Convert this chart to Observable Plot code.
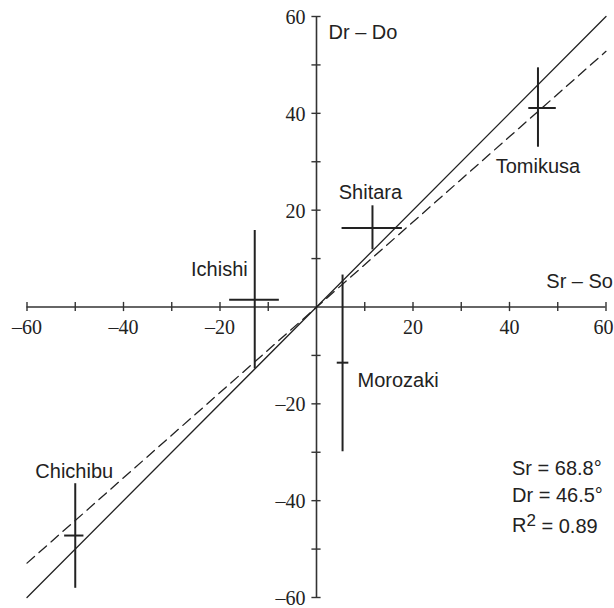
<!DOCTYPE html>
<html>
<head>
<meta charset="utf-8">
<script src="https://cdn.jsdelivr.net/npm/d3@7"></script>
<script src="https://cdn.jsdelivr.net/npm/@observablehq/plot@0.6"></script>
<style>
  html, body { margin: 0; padding: 0; background: #fff; }
  #chart { width: 614px; height: 608px; }
</style>
</head>
<body>
<div id="chart"></div>
<script>
// ---- data ----
const sites = ["Chichibu", "Ichishi", "Shitara", "Tomikusa", "Morozaki"];
const srSo   = [-50.0, -12.8, 11.6, 45.9, 5.4];   // x centre
const drDo   = [-47.2,   1.5, 16.3, 41.1, -11.5]; // y centre
const srSoLo = [-52.2, -18.0,  5.3, 44.0,  4.3];
const srSoHi = [-48.2,  -7.7, 17.8, 49.7,  6.7];
const drDoLo = [-58.1, -12.8, 11.8, 33.0, -29.9];
const drDoHi = [-36.5,  15.8, 20.9, 49.4,  6.6];

const fitX       = [-60, 60];
const fitSolidY  = [-60, 60];
const fitDashedY = [-52.9, 52.8];

const tickValues  = [-60, -50, -40, -30, -20, -10, 10, 20, 30, 40, 50, 60];
const labelValues = [-60, -40, -20, 20, 40, 60];
const domain = [-60, 60];
const xTitle = "Sr \u2013 So";
const yTitle = "Dr \u2013 Do";
const stats = ["Sr = 68.8\u00b0", "Dr = 46.5\u00b0", "R2 = 0.89"];

// ---- build ----
const points = sites.map((s, i) => ({
  site: s, x: srSo[i], y: drDo[i],
  xlo: srSoLo[i], xhi: srSoHi[i], ylo: drDoLo[i], yhi: drDoHi[i]
}));
const fit = fitX.map((x, i) => ({x, solid: fitSolidY[i], dashed: fitDashedY[i]}));

const ink = "#333";
const sans = "Liberation Sans, Arial, sans-serif";
const serif = "Liberation Serif, Times New Roman, serif";
const tickHalf = 0.95;
const fmt = d => d < 0 ? "\u2013" + Math.abs(d) : String(d);

// label placement (style)
const labelStyle = {
  Chichibu: {anchorY: "yhi", textAnchor: "middle", dx: -1, dy: -12},
  Ichishi:  {anchorY: "y",   textAnchor: "end",    dx: -7, dy: -30},
  Shitara:  {anchorY: "yhi", textAnchor: "middle", dx: -2, dy: -13},
  Tomikusa: {anchorY: "ylo", textAnchor: "middle", dx: 0,  dy: 19},
  Morozaki: {anchorY: "y",   textAnchor: "start",  dx: 15, dy: 18}
};

const labelMarks = points.map(p => {
  const st = labelStyle[p.site];
  return Plot.text([p], {
    x: "x", y: st.anchorY, text: "site",
    textAnchor: st.textAnchor, dx: st.dx, dy: st.dy,
    fontFamily: sans, fontSize: 20, fill: "#222"
  });
});

const statMarks = stats.map((t, i) => Plot.text([t], {
  text: d => d, frameAnchor: "bottom-right", textAnchor: "start",
  dx: -94, dy: [-123, -96, -66][i], fontFamily: sans, fontSize: 20, fill: "#222"
}));

const xLabelsInner = labelValues.filter(d => d !== domain[1]);
const xLabelsEdge = labelValues.filter(d => d === domain[1]);

const chart = Plot.plot({
  width: 614,
  height: 608,
  marginLeft: 26.5,
  marginRight: 8.5,
  marginTop: 16,
  marginBottom: 11,
  x: {domain, axis: null},
  y: {domain, axis: null},
  style: {background: "#fff", overflow: "visible"},
  marks: [
    // axes
    Plot.ruleY([0], {stroke: ink, strokeWidth: 1.6}),
    Plot.ruleX([0], {stroke: ink, strokeWidth: 1.6}),
    Plot.ruleX(tickValues, {x: d => d, y1: -tickHalf, y2: tickHalf, stroke: ink, strokeWidth: 1.4}),
    Plot.ruleY(tickValues, {y: d => d, x1: -tickHalf, x2: tickHalf, stroke: ink, strokeWidth: 1.4}),
    Plot.text(xLabelsInner, {x: d => d, y: 0, text: fmt, dy: 21, fontFamily: serif, fontSize: 20, fill: "#222"}),
    Plot.text(xLabelsEdge, {x: d => d, y: 0, text: fmt, dx: -2.5, dy: 21, fontFamily: serif, fontSize: 20, fill: "#222"}),
    Plot.text(labelValues, {x: 0, y: d => d, text: fmt, dx: -11, dy: 1, textAnchor: "end", fontFamily: serif, fontSize: 20, fill: "#222"}),
    Plot.text([yTitle], {x: 0, y: domain[1], text: d => d, dx: 12, dy: 16, textAnchor: "start", fontFamily: sans, fontSize: 20, fill: "#222"}),
    Plot.text([xTitle], {x: domain[1], y: 0, text: d => d, dx: 7, dy: -25, textAnchor: "end", fontFamily: sans, fontSize: 20, fill: "#222"}),
    // fit lines
    Plot.line(fit, {x: "x", y: "solid", stroke: "#222", strokeWidth: 1.3}),
    Plot.line(fit, {x: "x", y: "dashed", stroke: "#222", strokeWidth: 1.3, strokeDasharray: "10,6"}),
    // error crosses
    Plot.ruleX(points, {x: "x", y1: "ylo", y2: "yhi", stroke: "#222", strokeWidth: 2}),
    Plot.ruleY(points, {y: "y", x1: "xlo", x2: "xhi", stroke: "#222", strokeWidth: 2}),
    ...labelMarks,
    ...statMarks
  ]
});

document.getElementById("chart").appendChild(chart);

// superscript for R2
d3.select(chart).selectAll("text").each(function() {
  if (this.textContent === "R2 = 0.89") {
    const t = d3.select(this);
    t.text(null);
    t.append("tspan").text("R");
    t.append("tspan").attr("dy", "-0.35em").attr("font-size", 17).text("2");
    t.append("tspan").attr("dy", "0.35em").text(" = 0.89");
  }
});
</script>
</body>
</html>
